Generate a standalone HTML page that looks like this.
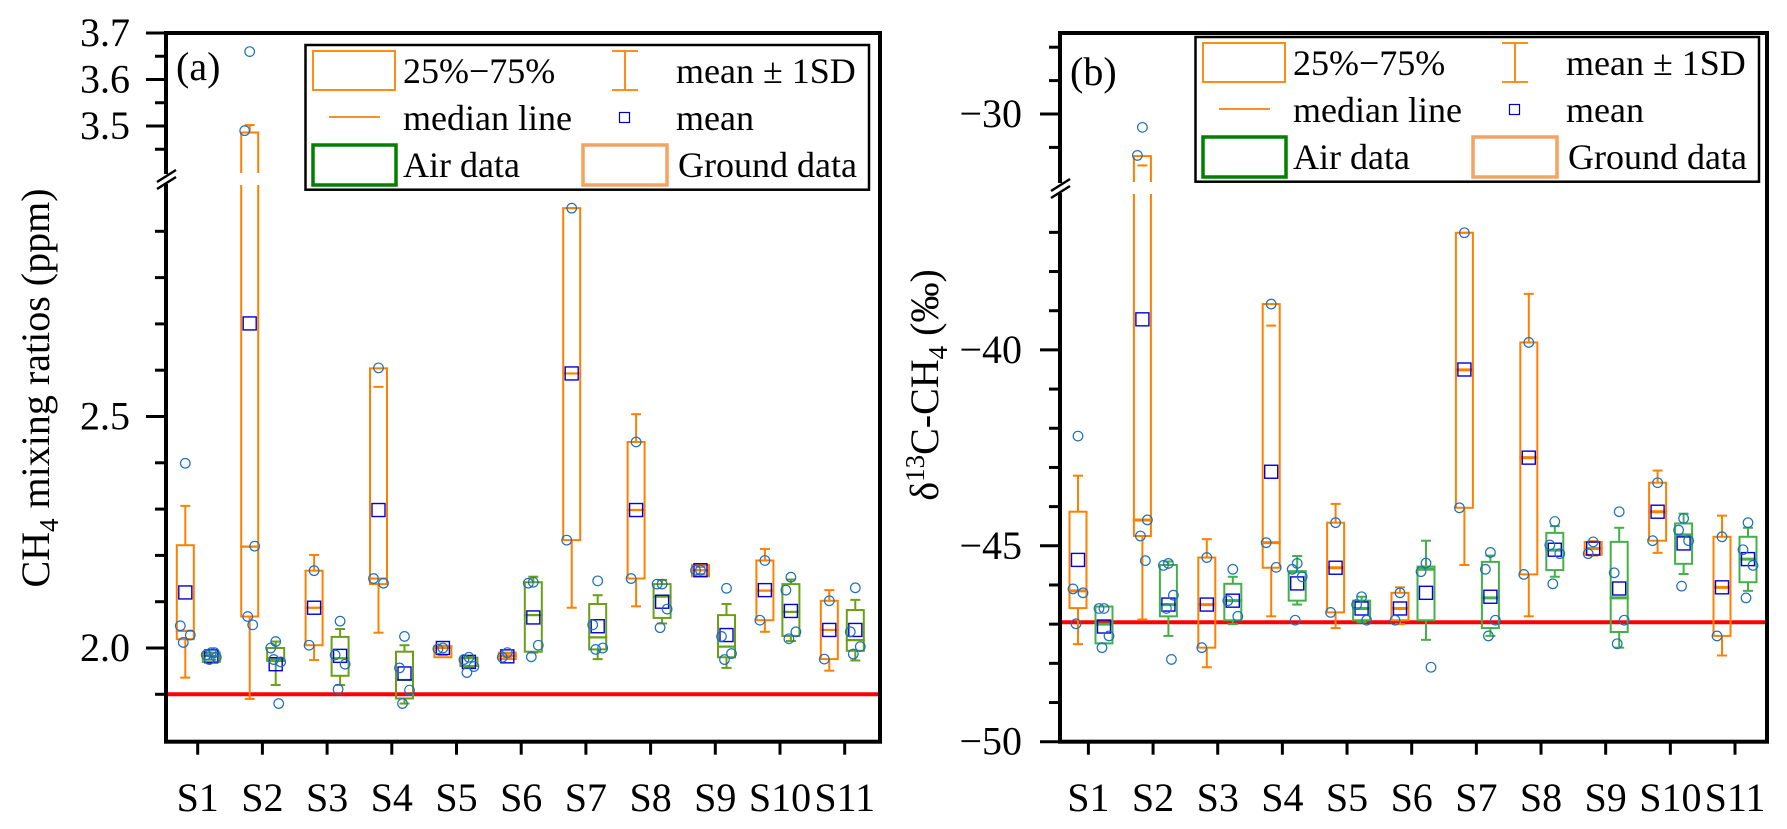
<!DOCTYPE html>
<html>
<head>
<meta charset="utf-8">
<style>
html,body{margin:0;padding:0;background:#fff;}
svg{display:block;}
svg text{font-family:"Liberation Serif","Times New Roman",Times,serif;}
</style>
</head>
<body>
<svg id="chart" xmlns="http://www.w3.org/2000/svg" width="1787" height="829" viewBox="0 0 1787 829" font-family="Liberation Serif, Times New Roman, serif">
  <rect x="0" y="0" width="1787" height="829" fill="#fff"/>
  <g id="panelA"></g>
  <g id="panelB"></g>
</svg>
<script>
const sites = ['S1','S2','S3','S4','S5','S6','S7','S8','S9','S10','S11'];

// Panel (a) ground data
const aGroundQ1   = [2.019,2.068,2.006,2.138,1.980,1.976,2.233,2.150,2.155,2.060,1.976];
const aGroundQ3   = [2.222,3.486,2.167,2.604,2.004,1.990,2.950,2.445,2.179,2.189,2.102];
const aGroundMed  = [2.037,2.219,2.087,2.150,2.000,1.983,2.593,2.298,2.168,2.124,2.039];
const aGroundMean = [2.120,2.701,2.087,2.298,2.000,1.982,2.593,2.298,2.168,2.125,2.039];
const aGroundLo   = [1.936,1.890,1.974,2.033,1.985,1.978,2.087,2.090,2.160,2.035,1.951];
const aGroundHi   = [2.307,3.502,2.201,2.564,2.005,1.988,2.950,2.505,2.175,2.214,2.125];
const aGroundPts  = [[2.399,2.048,2.028,2.012],[3.66,3.49,2.22,2.068,2.05],[2.167,2.006],[2.605,2.15,2.14],[2.0,1.998],[1.99,1.98],[2.95,2.233],[2.445,2.15],[2.168,2.168],[2.189,2.06],[2.102,1.976]];
// Panel (a) air data
const aAirQ1   = [1.970,1.972,1.940,1.891,1.961,1.992,1.997,2.065,1.980,2.026,1.994];
const aAirQ3   = [1.990,2.000,2.024,1.992,1.979,2.142,2.095,2.138,2.071,2.138,2.082];
const aAirMed  = [1.983,1.975,1.978,1.931,1.978,2.071,2.023,2.111,2.003,2.078,2.017];
const aAirMean = [1.982,1.965,1.983,1.945,1.970,2.066,2.047,2.100,2.028,2.080,2.039];
const aAirLo   = [1.975,1.920,1.920,1.880,1.958,1.990,1.976,2.053,1.957,2.015,1.973];
const aAirHi   = [1.990,2.014,2.041,2.006,1.982,2.154,2.114,2.147,2.095,2.148,2.104];
const aAirPts  = [[1.99,1.985,1.98,1.975,1.99],[2.014,2.0,1.97,1.975,1.88],[2.058,1.985,1.965,1.911],[2.025,1.957,1.909,1.88],[1.98,1.975,1.96,1.947],[2.142,2.14,2.006,1.981],[2.145,2.05,2.0,1.997],[2.138,2.138,2.084,2.044],[2.129,2.025,1.988,1.975],[2.153,2.125,2.035,2.02],[2.13,2.035,2.003,1.987]];
const aRefValue = 1.90;
const aTicksUpperMajor = [3.5,3.6,3.7];
const aTicksUpperMinor = [3.45,3.55,3.65];
const aTicksLowerMajor = [2.0,2.5];
const aTicksLowerMinor = [1.9,2.1,2.2,2.3,2.4,2.6,2.7,2.8,2.9];
const aTickLabels = ['2.0','2.5','3.5','3.6','3.7'];
const aTickLabelValues = [2.0,2.5,3.5,3.6,3.7];

// Panel (b) ground data
const bGroundQ1   = [-46.59,-44.75,-47.60,-45.56,-46.70,-46.90,-44.03,-45.73,-45.23,-44.87,-47.30];
const bGroundQ3   = [-44.13,-31.26,-45.30,-38.83,-44.41,-46.20,-37.01,-39.81,-44.90,-43.39,-44.77];
const bGroundMed  = [-46.15,-44.34,-46.50,-44.92,-45.56,-46.60,-40.51,-42.75,-45.07,-44.13,-46.06];
const bGroundMean = [-45.36,-39.22,-46.50,-43.11,-45.56,-46.60,-40.50,-42.75,-45.07,-44.13,-46.06];
const bGroundLo   = [-47.51,-46.88,-48.10,-46.80,-47.10,-47.00,-45.49,-46.80,-45.25,-45.18,-47.80];
const bGroundHi   = [-43.21,-31.54,-44.83,-39.38,-43.93,-46.06,-37.01,-38.57,-44.88,-43.08,-44.23];
const bGroundPts  = [[-42.2,-46.1,-46.2,-46.99],[-30.4,-31.24,-44.34,-44.75,-45.38],[-45.3,-47.6],[-38.83,-44.92,-45.55],[-44.41,-46.7],[-46.2,-46.9],[-37.01,-44.03],[-39.81,-45.73],[-44.9,-45.2],[-43.39,-44.87],[-44.77,-47.3]];
// Panel (b) air data
const bAirQ1   = [-47.49,-46.80,-46.90,-46.40,-46.90,-46.90,-47.10,-45.62,-47.20,-45.46,-45.93];
const bAirQ3   = [-46.55,-45.49,-45.97,-45.66,-46.40,-45.53,-45.41,-44.67,-44.90,-44.43,-44.77];
const bAirMed  = [-47.00,-46.50,-46.40,-45.66,-46.60,-45.60,-46.33,-45.11,-46.33,-44.72,-45.34];
const bAirMean = [-47.06,-46.50,-46.40,-45.96,-46.60,-46.20,-46.30,-45.10,-46.09,-44.94,-45.34];
const bAirLo   = [-47.49,-47.30,-47.00,-46.50,-46.95,-47.40,-47.30,-45.79,-47.60,-45.72,-46.15];
const bAirHi   = [-46.55,-45.40,-45.79,-45.26,-46.30,-44.87,-45.25,-44.50,-44.54,-44.18,-44.54];
const bAirPts  = [[-46.6,-46.6,-47.3,-47.6],[-45.45,-45.5,-46.26,-46.6,-47.9],[-45.6,-46.4,-46.8],[-45.45,-45.6,-45.79,-46.9],[-46.3,-46.5,-46.9],[-45.44,-45.66,-48.1],[-45.17,-45.6,-46.9,-47.3],[-44.38,-44.98,-45.2,-45.97],[-44.13,-45.69,-46.9,-47.5],[-44.3,-44.6,-44.87,-46.03],[-44.41,-45.1,-45.5,-46.33]];
const bRefValue = -46.95;
const bTicksUpperMajor = [-30];
const bTicksUpperMinor = [-28,-29,-31];
const bTicksLowerMajor = [-50,-45,-40];
const bTicksLowerMinor = [-49,-48,-47,-46,-44,-43,-42,-41,-39,-38,-37];
const bTickLabels = ['\u221250','\u221245','\u221240','\u221230'];
const bTickLabelValues = [-50,-45,-40,-30];

const NS = 'http://www.w3.org/2000/svg';
const FONT = '"Liberation Serif", "Times New Roman", Times, serif';
function mk(parent, tag, attrs, text){
  const e = document.createElementNS(NS, tag);
  for (const k in attrs) e.setAttribute(k, attrs[k]);
  if (tag === 'text') e.setAttribute('font-family', FONT);
  if (text !== undefined) e.textContent = text;
  parent.appendChild(e);
  return e;
}

function yA(v){ return v >= 3.2 ? 126 - (v-3.5)*465 : 648 - (v-2.0)*463; }
function yB(v){ return v >= -34 ? 114 - (v+30)*33.4 : 741.7 - (v+50)*39.18; }

const ORANGE = '#ff8000';
const JIT = [0,-5,5,-2,3];

function drawPanel(cfg){
  const g = document.getElementById(cfg.gid);
  const L = cfg.left, R = cfg.right, T = 33, B = 741.7;
  const ys = cfg.y;
  const ref = mk(g,'line',{x1:L,x2:R,y1:ys(cfg.ref),y2:ys(cfg.ref),stroke:'#ff0000','stroke-width':4});
  
  

  function series(kind, q1, q3, med, mean, lo, hi, pts, color, medW){
    const sg = mk(g,'g',{});
    
    
    for (let i=0;i<sites.length;i++){
      const cx = cfg.boxX0 + i*cfg.boxStep + (kind==='air' ? 26 : 0);
      const bg = mk(sg,'g',{});
      
      
      const w = 17, cw = 10, sw = 2;
      const yq1 = ys(q1[i]), yq3 = ys(q3[i]);
      if (hi[i] > q3[i]) mk(bg,'line',{x1:cx,x2:cx,y1:ys(hi[i]),y2:yq3,stroke:color,'stroke-width':sw});
      if (lo[i] < q1[i]) mk(bg,'line',{x1:cx,x2:cx,y1:ys(lo[i]),y2:yq1,stroke:color,'stroke-width':sw});
      mk(bg,'line',{x1:cx-cw/2,x2:cx+cw/2,y1:ys(hi[i]),y2:ys(hi[i]),stroke:color,'stroke-width':sw});
      mk(bg,'line',{x1:cx-cw/2,x2:cx+cw/2,y1:ys(lo[i]),y2:ys(lo[i]),stroke:color,'stroke-width':sw});
      mk(bg,'rect',{x:cx-w/2,y:yq3,width:w,height:Math.max(yq1-yq3,1),fill:'none',stroke:color,'stroke-width':sw});
      mk(bg,'line',{x1:cx-w/2-1,x2:cx+w/2+1,y1:ys(med[i]),y2:ys(med[i]),stroke:color,'stroke-width':medW});
      mk(bg,'rect',{x:cx-6.5,y:ys(mean[i])-6.5,width:13,height:13,fill:'none',stroke:'#0000dd','stroke-width':1.4});
      pts[i].forEach((p,j)=>{
        const c = mk(bg,'circle',{cx:cx+JIT[j%JIT.length],cy:ys(p),r:4.8,fill:'none',stroke:'#1a6fbf','stroke-width':1.2});
        
        
      });
    }
  }
  series('ground', cfg.gq1,cfg.gq3,cfg.gmed,cfg.gmean,cfg.glo,cfg.ghi,cfg.gpts, ORANGE, cfg.medW);
  series('air', cfg.aq1,cfg.aq3,cfg.amed,cfg.amean,cfg.alo,cfg.ahi,cfg.apts, cfg.green, cfg.medW);

  mk(g,'rect',{x:L+3,y:cfg.gapTop,width:R-L-6,height:cfg.gapBot-cfg.gapTop,fill:'#fff'});

  const fr = mk(g,'rect',{x:L,y:T,width:R-L,height:B-T,fill:'none',stroke:'#000','stroke-width':4});
  
  

  const bm = (cfg.gapTop+cfg.gapBot)/2;
  mk(g,'rect',{x:L-3,y:bm-5,width:6,height:10,fill:'#fff'});
  const brk = mk(g,'g',{});
  
  
  mk(brk,'line',{x1:L-9,y1:bm+3,x2:L+10,y2:bm-9,stroke:'#000','stroke-width':2.5});
  mk(brk,'line',{x1:L-9,y1:bm+10,x2:L+10,y2:bm-2,stroke:'#000','stroke-width':2.5});

  const yt = mk(g,'g',{});
  
  
  cfg.major.forEach(v=>mk(yt,'line',{x1:L-20,x2:L,y1:ys(v),y2:ys(v),stroke:'#000','stroke-width':3}));
  cfg.minor.forEach(v=>mk(yt,'line',{x1:L-11,x2:L,y1:ys(v),y2:ys(v),stroke:'#000','stroke-width':3}));
  const yl = mk(g,'g',{});
  
  
  cfg.labels.forEach((t,k)=>{
    mk(yl,'text',{x:cfg.labelX,y:ys(cfg.labelVals[k])+13,'text-anchor':'end','font-size':40,fill:'#000'},t);
  });

  const xt = mk(g,'g',{});
  
  
  sites.forEach((s,i)=>{
    const x = cfg.tickX0 + i*cfg.tickStep;
    mk(xt,'line',{x1:x,x2:x,y1:B,y2:B+13,stroke:'#000','stroke-width':3});
    const tx = mk(xt,'text',{x:x,y:811,'text-anchor':'middle','font-size':40,fill:'#000'},s);
    
    
  });

  const pl = mk(g,'text',{x:cfg.plX,y:cfg.plY,'font-size':40,fill:'#000'},cfg.panelLabel);
  
  

  const dx = cfg.legDx, dy = cfg.legDy;
  const lg = mk(g,'g',{transform:'translate('+dx+','+dy+')'});
  
  
  mk(lg,'rect',{x:1195.5,y:37,width:563.5,height:144.7,fill:'#fff',stroke:'#000','stroke-width':2.5});
  mk(lg,'rect',{x:1203,y:43,width:82,height:39,fill:'none',stroke:ORANGE,'stroke-width':1.8});
  mk(lg,'text',{x:1293,y:75,'font-size':36},'25%\u221275%');
  mk(lg,'line',{x1:1515,x2:1515,y1:43,y2:82,stroke:ORANGE,'stroke-width':1.8});
  mk(lg,'line',{x1:1502,x2:1528,y1:43,y2:43,stroke:ORANGE,'stroke-width':1.8});
  mk(lg,'line',{x1:1502,x2:1528,y1:82,y2:82,stroke:ORANGE,'stroke-width':1.8});
  mk(lg,'text',{x:1566,y:75,'font-size':36},'mean \u00b1 1SD');
  mk(lg,'line',{x1:1219,x2:1270,y1:109,y2:109,stroke:ORANGE,'stroke-width':1.8});
  mk(lg,'text',{x:1293,y:122,'font-size':36},'median line');
  mk(lg,'rect',{x:1509.5,y:104.5,width:10,height:10,fill:'none',stroke:'#0000c0','stroke-width':1.2});
  mk(lg,'text',{x:1566,y:122,'font-size':36},'mean');
  mk(lg,'rect',{x:1203,y:137,width:83,height:40,fill:'none',stroke:'#008000','stroke-width':3.5});
  mk(lg,'text',{x:1293,y:169,'font-size':36},'Air data');
  mk(lg,'rect',{x:1473,y:137,width:84,height:40,fill:'none',stroke:'#f4a460','stroke-width':3.5});
  mk(lg,'text',{x:1568,y:169,'font-size':36},'Ground data');
}

drawPanel({gid:'panelA',left:166,right:880,y:yA,ref:aRefValue,
  boxX0:185.3,boxStep:64.4,tickX0:197.7,tickStep:64.7,green:'#6aa016',medW:2.2,
  gq1:aGroundQ1,gq3:aGroundQ3,gmed:aGroundMed,gmean:aGroundMean,glo:aGroundLo,ghi:aGroundHi,gpts:aGroundPts,
  aq1:aAirQ1,aq3:aAirQ3,amed:aAirMed,amean:aAirMean,alo:aAirLo,ahi:aAirHi,apts:aAirPts,
  gapTop:173,gapBot:185,
  major:aTicksUpperMajor.concat(aTicksLowerMajor),minor:aTicksUpperMinor.concat(aTicksLowerMinor),
  labels:aTickLabels,labelVals:aTickLabelValues,labelX:130,
  plX:176,plY:80,panelLabel:'(a)',legDx:-890,legDy:8});

drawPanel({gid:'panelB',left:1060,right:1767,y:yB,ref:bRefValue,
  boxX0:1078,boxStep:64.4,tickX0:1088.4,tickStep:64.66,green:'#44b048',medW:3,
  gq1:bGroundQ1,gq3:bGroundQ3,gmed:bGroundMed,gmean:bGroundMean,glo:bGroundLo,ghi:bGroundHi,gpts:bGroundPts,
  aq1:bAirQ1,aq3:bAirQ3,amed:bAirMed,amean:bAirMean,alo:bAirLo,ahi:bAirHi,apts:bAirPts,
  gapTop:182,gapBot:194,
  major:bTicksUpperMajor.concat(bTicksLowerMajor),minor:bTicksUpperMinor.concat(bTicksLowerMinor),
  labels:bTickLabels,labelVals:bTickLabelValues,labelX:1022,
  plX:1070,plY:85,panelLabel:'(b)',legDx:0,legDy:0});

const svg = document.getElementById('chart');
const ta = mk(svg,'text',{x:0,y:0,'font-size':40,'text-anchor':'middle',transform:'translate(49,388) rotate(-90)'});


mk(ta,'tspan',{},'CH');
mk(ta,'tspan',{'font-size':27,dy:9},'4');
mk(ta,'tspan',{dy:-9},' mixing ratios (ppm)');

const tb = mk(svg,'text',{x:0,y:0,'font-size':40,'text-anchor':'middle',transform:'translate(938,385) rotate(-90)'});


mk(tb,'tspan',{},'\u03b4');
mk(tb,'tspan',{'font-size':27,dy:-14},'13');
mk(tb,'tspan',{dy:14},'C-CH');
mk(tb,'tspan',{'font-size':27,dy:9},'4');
mk(tb,'tspan',{dy:-9},' (\u2030)');
</script>
</body>
</html>
